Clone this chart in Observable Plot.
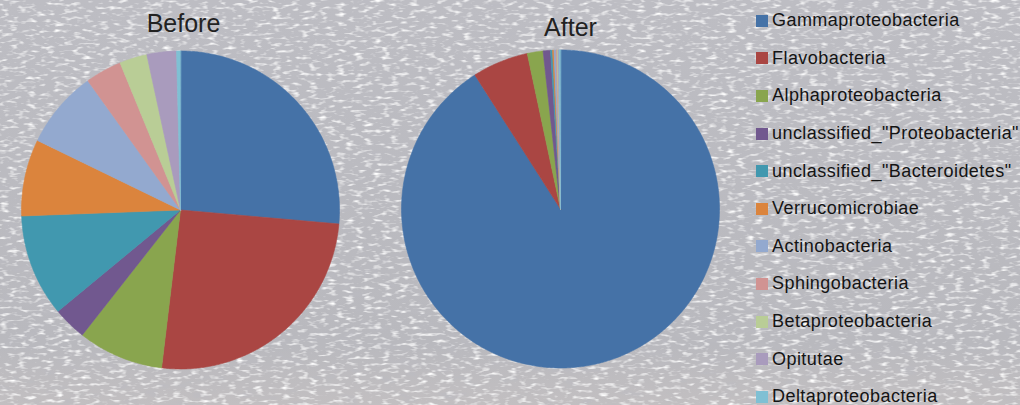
<!DOCTYPE html>
<html>
<head>
<meta charset="utf-8">
<script src="https://cdn.jsdelivr.net/npm/d3@7"></script>
<script src="https://cdn.jsdelivr.net/npm/@observablehq/plot@0.6"></script>
<style>
  html, body { margin: 0; padding: 0; }
  body { width: 1020px; height: 405px; overflow: hidden; position: relative; background: #bababf; }
  #texture { position: absolute; left: 0; top: 0; }
  #chart { position: absolute; left: 0; top: 0; }
  #legend { position: absolute; left: 756px; top: 2px; font-family: "Liberation Sans", Arial, sans-serif; font-size: 18px; color: #141414; letter-spacing: 0.45px; }
  #legend .row { display: flex; align-items: center; height: 37.6px; white-space: nowrap; }
  #legend .sw { width: 12px; height: 12px; margin-right: 4px; flex: none; }
</style>
</head>
<body>
<svg id="texture" width="1020" height="405">
  <defs>
    <linearGradient id="fade" x1="0" y1="0" x2="0" y2="1">
      <stop offset="0" stop-color="#bdbdc3"/>
      <stop offset="0.85" stop-color="#b9b9be"/>
      <stop offset="1" stop-color="#c2bfc1"/>
    </linearGradient>
  </defs>
  <filter id="speckle" x="0" y="0" width="100%" height="100%">
    <feTurbulence type="fractalNoise" baseFrequency="0.11 0.3" numOctaves="2" seed="7"/>
    <feColorMatrix values="0 0 0 0 1  0 0 0 0 1  0 0 0 0 1  0 0 0 2.8 -1.45"/>
  </filter>
  <filter id="shade" x="0" y="0" width="100%" height="100%">
    <feTurbulence type="fractalNoise" baseFrequency="0.05 0.12" numOctaves="2" seed="11"/>
    <feColorMatrix values="0 0 0 0 0.5  0 0 0 0 0.5  0 0 0 0 0.54  0 0 0 1.6 -0.85"/>
  </filter>
  <rect width="1020" height="405" fill="url(#fade)"/>
  <rect width="1020" height="405" filter="url(#shade)"/>
  <rect width="1020" height="405" filter="url(#speckle)"/>
</svg>
<div id="chart"></div>
<div id="legend"></div>
<script>
// Bacterial classes, in legend / slice order
const categories = [
  "Gammaproteobacteria",
  "Flavobacteria",
  "Alphaproteobacteria",
  "unclassified_\"Proteobacteria\"",
  "unclassified_\"Bacteroidetes\"",
  "Verrucomicrobiae",
  "Actinobacteria",
  "Sphingobacteria",
  "Betaproteobacteria",
  "Opitutae",
  "Deltaproteobacteria"
];

// Relative abundance (%) per class
const before = [26.4, 25.5, 8.7, 3.4, 10.4, 7.8, 7.9, 3.7, 2.8, 3.0, 0.4];
const after  = [90.95, 5.7, 1.6, 0.75, 0.2, 0.15, 0.2, 0.1, 0.1, 0.1, 0.15];

const samples = ["Before", "After"];

const colors = [
  "#4572a7", "#aa4643", "#89a54e", "#71588f", "#4198af", "#db843d",
  "#93a9cf", "#d19392", "#b9cd96", "#a99bbd", "#7fc0d4"
];

// Pie layout (pixel units of the plot frame)
const W = 1020, H = 405;
const R = 159;
const centers = {Before: [180, 209.5], After: [560, 208.5]};

const pie = d3.pie().sort(null).value(d => d.value);

// Build one closed polygon per slice, sampled along its arc
const vertices = [];
for (const [s, values] of [["Before", before], ["After", after]]) {
  const rows = categories.map((c, i) => ({category: c, value: values[i]}));
  const [cx, cy] = centers[s];
  for (const a of pie(rows)) {
    const key = s + "|" + a.data.category;
    vertices.push({key, category: a.data.category, x: cx, y: cy});
    const n = Math.max(2, Math.ceil((a.endAngle - a.startAngle) / (Math.PI / 360)));
    for (let k = 0; k <= n; k++) {
      const t = a.startAngle + (a.endAngle - a.startAngle) * k / n;
      vertices.push({key, category: a.data.category, x: cx + R * Math.sin(t), y: cy - R * Math.cos(t)});
    }
  }
}

const titles = samples.map(s => ({label: s}));

const chart = Plot.plot({
  width: W,
  height: H,
  margin: 0,
  style: {background: "transparent", fontFamily: "Liberation Sans, Arial, sans-serif"},
  x: {domain: [0, W], range: [0, W], axis: null},
  y: {domain: [0, H], range: [0, H], axis: null},
  color: {domain: categories, range: colors},
  marks: [
    Plot.line(vertices, {
      x: "x", y: "y", z: "key",
      fill: "category", stroke: "category", strokeWidth: 0.6,
      curve: "linear-closed"
    }),
    Plot.text(titles, {
      x: d => d.label === "Before" ? 183 : 570,
      y: d => d.label === "Before" ? 23 : 27,
      text: "label",
      fontSize: 25,
      fill: "#222"
    })
  ]
});
document.getElementById("chart").appendChild(chart);

// Legend
const legend = document.getElementById("legend");
categories.forEach((c, i) => {
  const row = document.createElement("div");
  row.className = "row";
  const sw = document.createElement("span");
  sw.className = "sw";
  sw.style.background = colors[i];
  const label = document.createElement("span");
  label.textContent = c;
  row.appendChild(sw);
  row.appendChild(label);
  legend.appendChild(row);
});
</script>
</body>
</html>
